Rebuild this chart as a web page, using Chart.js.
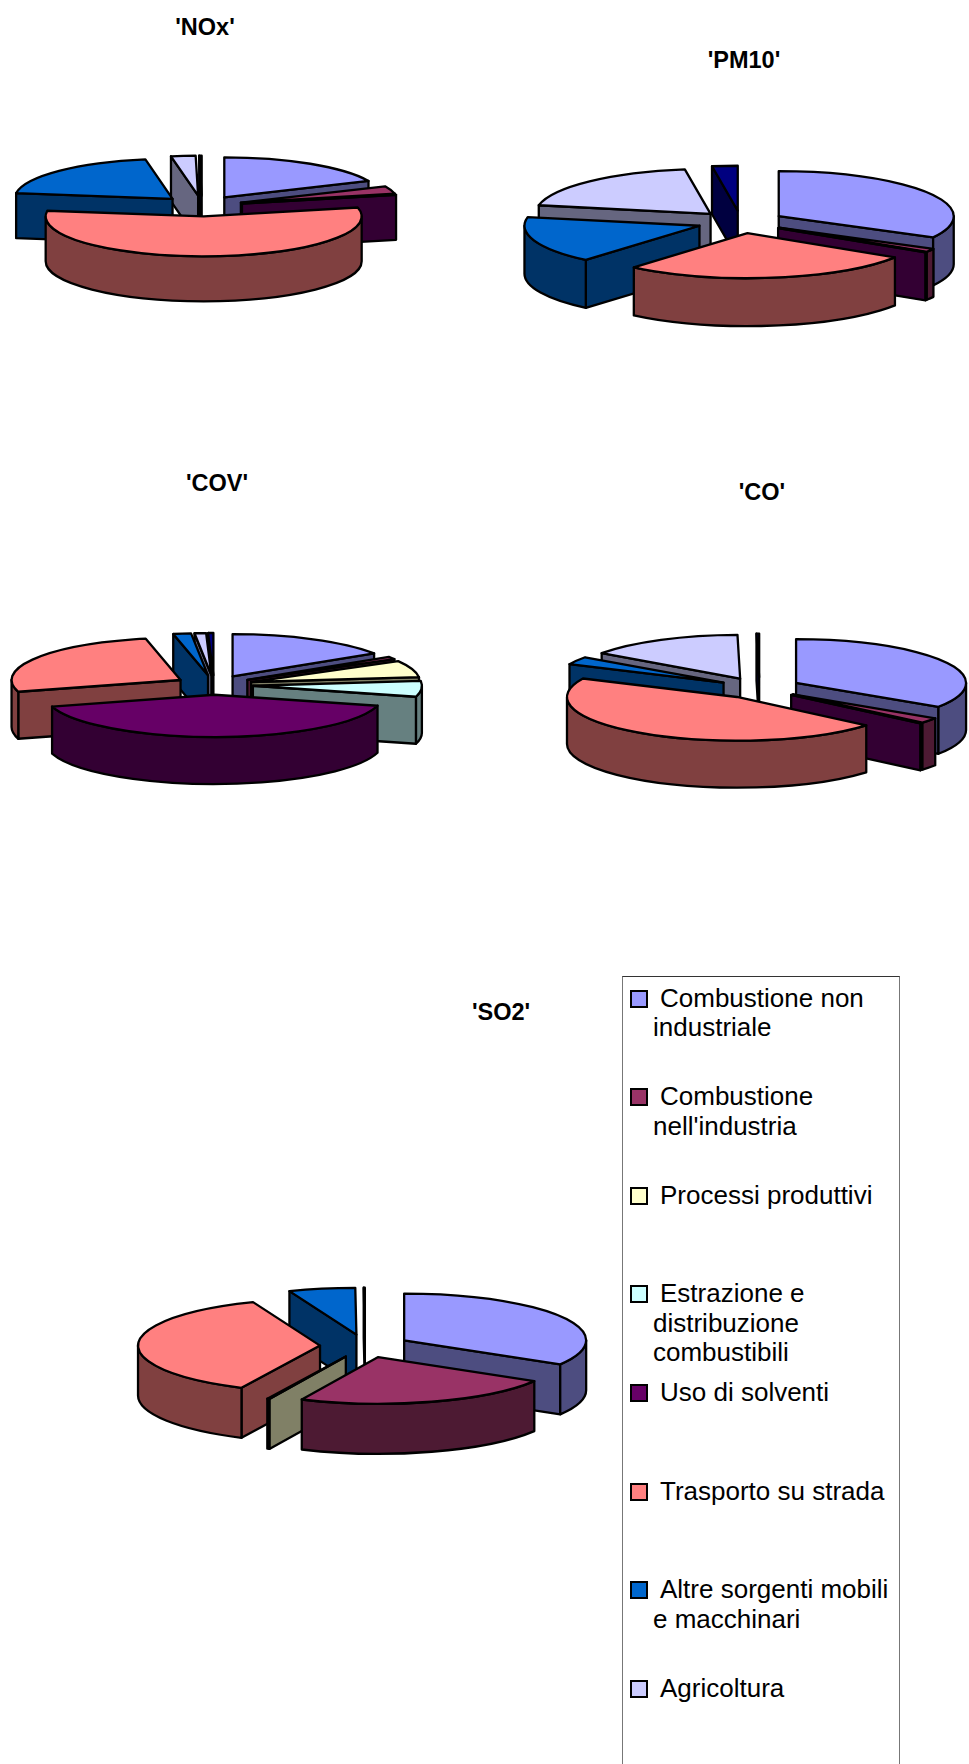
<!DOCTYPE html>
<html>
<head>
<meta charset="utf-8">
<title>Emissioni per settore</title>
<script src="https://cdn.jsdelivr.net/npm/chart.js@4"></script>
<style>
    html, body { margin: 0; padding: 0; background: #fff; }
    body { position: relative; width: 969px; height: 1764px; overflow: hidden; font-family: "Liberation Sans", Arial, sans-serif; color: #000; }
    canvas { position: absolute; }
    .pie-title { position: absolute; width: 200px; margin-left: -100px; text-align: center; font-weight: bold; font-size: 23.5px; line-height: 26px; }
    #legendBox { position: absolute; left: 622px; top: 976px; width: 276px; height: 800px; border: 1px solid #777; border-top-color: #333; }
    .legend-item { position: absolute; left: 30px; width: 244px; font-size: 26px; line-height: 29.5px; text-indent: 7px; }
    .legend-mark { position: absolute; left: -23px; top: 6px; width: 14px; height: 14px; border: 2px solid #000; }
</style>
</head>
<body>
<div id="legendBox"></div>

<script>
// Legend names, in slice order (the ninth, navy entry is cut off by the page bottom)
const categories = [
    'Combustione non industriale',
    "Combustione nell'industria",
    'Processi produttivi',
    'Estrazione e distribuzione combustibili',
    'Uso di solventi',
    'Trasporto su strada',
    'Altre sorgenti mobili e macchinari',
    'Agricoltura'
];

// Shares (%)
const noxValues = [18.3, 3.1, 0, 0, 0.05, 55.8, 20.0, 2.5, 0.25];
const pm10Values = [32.8, 1.2, 0, 0, 0.05, 27.2, 16.8, 19.6, 2.35];
const covValues = [15.8, 1.0, 6.4, 6.0, 41.3, 26.2, 1.7, 1.1, 0.5];
const coValues = [34.2, 2.0, 0, 0, 0.05, 45.7, 2.9, 14.9, 0.25];
const so2Values = [33.6, 23.3, 0.2, 0, 0, 36.9, 5.9, 0, 0.1];

const topColors = ['#9999FF', '#993366', '#FFFFCC', '#CCFFFF', '#660066', '#FF8080', '#0066CC', '#CCCCFF', '#000080'];
const wallColors = ['#4D4D80', '#4D1A33', '#808066', '#668080', '#330033', '#804040', '#003366', '#666680', '#000040'];

// Draws the pie as a tilted, exploded 3D pie from the arcs the library laid out
const pie3d = {
    id: 'pie3d',
    beforeDatasetsDraw(chart, args, opts) {
        const ctx = chart.ctx;
        const tilt = opts.tilt;
        const depth = opts.depth;
        const explode = opts.explode;
        const arcs = chart.getDatasetMeta(0).data.map((arc, i) => {
            const p = arc.getProps(['x', 'y', 'startAngle', 'endAngle', 'outerRadius']);
            const mid = (p.startAngle + p.endAngle) / 2;
            return {
                arc, i, mid,
                a0: p.startAngle,
                a1: p.endAngle,
                r: p.outerRadius,
                cy: p.y,
                dx: Math.cos(mid) * explode,
                dy: Math.sin(mid) * explode,
                ax: p.x + Math.cos(mid) * explode,
                ay: p.y + Math.sin(mid) * explode * tilt
            };
        }).filter(s => s.a1 - s.a0 > 0.0001);

        // back slices first
        arcs.sort((a, b) => Math.sin(a.mid) - Math.sin(b.mid));

        ctx.save();
        ctx.lineWidth = 2.3;
        ctx.lineJoin = 'round';
        ctx.strokeStyle = '#000';

        arcs.forEach(s => {
            const ry = s.r * tilt;
            ctx.fillStyle = wallColors[s.i];

            // flat cut faces, only the ones turned to the viewer
            [[s.a0, Math.cos(s.a0) < 0], [s.a1, Math.cos(s.a1) > 0]].forEach(([a, visible]) => {
                if (!visible) return;
                const ex = s.ax + Math.cos(a) * s.r;
                const ey = s.ay + Math.sin(a) * ry;
                ctx.beginPath();
                ctx.moveTo(s.ax, s.ay);
                ctx.lineTo(ex, ey);
                ctx.lineTo(ex, ey + depth);
                ctx.lineTo(s.ax, s.ay + depth);
                ctx.closePath();
                ctx.fill();
                ctx.stroke();
            });

            // outer rim where the arc faces front (canvas angles 0..PI)
            [-2 * Math.PI, 0, 2 * Math.PI].forEach(k => {
                const t0 = Math.max(s.a0, k);
                const t1 = Math.min(s.a1, k + Math.PI);
                if (t1 <= t0) return;
                ctx.beginPath();
                ctx.ellipse(s.ax, s.ay, s.r, ry, 0, t0, t1, false);
                ctx.ellipse(s.ax, s.ay + depth, s.r, ry, 0, t1, t0, true);
                ctx.closePath();
                ctx.fill();
                ctx.stroke();
            });

            // top face: the library's own arc, squashed and moved out
            ctx.save();
            ctx.translate(0, s.cy);
            ctx.scale(1, tilt);
            ctx.translate(s.dx, s.dy - s.cy);
            s.arc.draw(ctx);
            ctx.restore();

            ctx.beginPath();
            ctx.moveTo(s.ax, s.ay);
            ctx.ellipse(s.ax, s.ay, s.r, ry, 0, s.a0, s.a1, false);
            ctx.closePath();
            ctx.stroke();
        });
        ctx.restore();
        return false;
    }
};

// Create one pie around the centre (cx, cy) of the page
function makePie(title, titleX, titleY, values, cx, cy, radius, explode, tilt, depth) {
    const canvas = document.createElement('canvas');
    const w = 2 * (radius + explode) + 20;
    const h = 2 * (depth + 80);
    canvas.width = w;
    canvas.height = h;
    canvas.style.left = (cx - w / 2) + 'px';
    canvas.style.top = (cy - h / 2) + 'px';
    canvas.style.width = w + 'px';
    canvas.style.height = h + 'px';
    document.body.appendChild(canvas);

    const label = document.createElement('div');
    label.className = 'pie-title';
    label.textContent = title;
    label.style.left = titleX + 'px';
    label.style.top = (titleY - 13) + 'px';
    document.body.appendChild(label);

    return new Chart(canvas.getContext('2d'), {
        type: 'pie',
        plugins: [pie3d],
        data: {
            labels: categories,
            datasets: [{
                data: values,
                backgroundColor: topColors,
                borderWidth: 0,
                radius: radius
            }]
        },
        options: {
            responsive: false,
            animation: false,
            layout: { padding: 0 },
            plugins: {
                legend: { display: false },
                tooltip: { enabled: false },
                pie3d: { tilt: tilt, depth: depth, explode: explode }
            }
        }
    });
}

makePie("'NOx'", 205, 27, noxValues, 202, 206, 158, 41, 0.253, 45);
makePie("'PM10'", 744, 60, pm10Values, 740.5, 222, 175, 44, 0.257, 48);
makePie("'COV'", 217, 483, covValues, 214, 685, 169, 39, 0.25, 47);
makePie("'CO'", 762, 492, coValues, 759.5, 688, 170, 41.6, 0.257, 47);
makePie("'SO2'", 501, 1012, so2Values, 365, 1346, 182, 45, 0.257, 50);

// Legend box
const legendBox = document.getElementById('legendBox');
categories.forEach((name, i) => {
    const item = document.createElement('div');
    item.className = 'legend-item';
    item.style.top = (6.5 + i * 98.6) + 'px';
    item.textContent = name;
    const mark = document.createElement('span');
    mark.className = 'legend-mark';
    mark.style.background = topColors[i];
    item.appendChild(mark);
    legendBox.appendChild(item);
});
</script>
</body>
</html>
